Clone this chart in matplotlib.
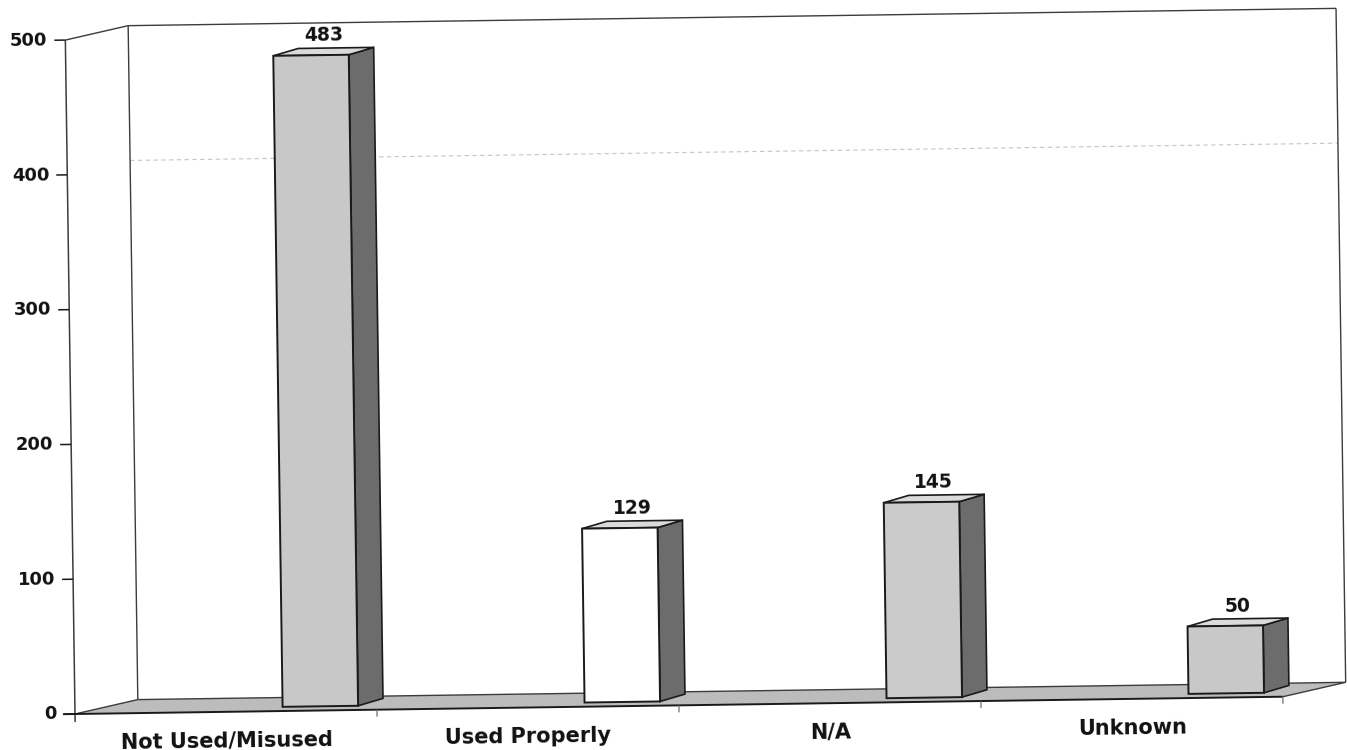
import matplotlib
matplotlib.use("Agg")
import matplotlib.pyplot as plt
from matplotlib.patches import Polygon
from matplotlib.transforms import Affine2D

# ---- data -------------------------------------------------------------
categories = ["Not Used/Misused", "Used Properly", "N/A", "Unknown"]
counts = [483, 129, 145, 50]
y_ticks = [0, 100, 200, 300, 400, 500]
y_max = 500
grid_values = [400]
front_colors = ["#c8c8c8", "#ffffff", "#cbcbcb", "#c8c8c8"]

# ---- layout of the pseudo-3D frame -------------------------------------
FIG_W, FIG_H, DPI = 1347, 750, 100
PX_PER_CAT = 302.0          # horizontal pixels per category slot
PX_PER_VAL = 1.348          # vertical pixels per count unit
ORIGIN = (75.0, 714.0)      # floor front-left corner, pixels from top-left
TILT = 0.82                 # whole drawing is tilted slightly (degrees)

# depth vectors expressed in data units (category, count)
FLOOR_D = (63.0 / PX_PER_CAT, 13.5 / PX_PER_VAL)
BAR_D = (25.0 / PX_PER_CAT, 7.0 / PX_PER_VAL)
BAR_DEPTH_POS = 0.31        # bar front face sits this far back on the floor
BAR_LEFT = 0.623            # bar offset inside its category slot
BAR_W = 0.25

FLOOR_C = "#bcbcbc"
SIDE_C = "#6c6c6c"
TOP_C = "#dadada"
EDGE_C = "#1a1a1a"
WALL_C = "#3c3c3c"
TEXT_C = "#111111"
FONT = "DejaVu Sans"

fig = plt.figure(figsize=(FIG_W / DPI, FIG_H / DPI), dpi=DPI)
ax = fig.add_axes([0, 0, 1, 1])
ax.set_axis_off()
ax.set_xlim(-ORIGIN[0] / PX_PER_CAT, (FIG_W - ORIGIN[0]) / PX_PER_CAT)
ax.set_ylim((ORIGIN[1] - FIG_H) / PX_PER_VAL, ORIGIN[1] / PX_PER_VAL)

ox, oy = ax.transData.transform((0, 0))
T = ax.transData + Affine2D().rotate_deg_around(ox, oy, TILT)

n = len(categories)
fdx, fdy = FLOOR_D
bdx, bdy = BAR_D


def line(xs, ys, **kw):
    ax.plot(xs, ys, transform=T, solid_capstyle="butt", **kw)


def poly(pts, **kw):
    ax.add_patch(Polygon(pts, closed=True, transform=T, **kw))


def label(x, y, s, size, **kw):
    ax.text(x, y, s, transform=T, fontsize=size, fontweight="bold",
            family=FONT, rotation=TILT, rotation_mode="anchor",
            color=TEXT_C, **kw)


# floor
poly([(0, 0), (n, 0), (n + fdx, fdy), (fdx, fdy)], facecolor=FLOOR_C,
     edgecolor="none", zorder=1)

# gridlines on the back wall
for g in grid_values:
    line([fdx, n + fdx], [g + fdy, g + fdy], color="#a0a0a0", lw=0.8,
         ls=(0, (4, 3)), alpha=0.6, zorder=1)

# walls and floor edges
wall_kw = dict(color=WALL_C, lw=1.0, zorder=2)
line([fdx, fdx], [fdy, y_max + fdy], **wall_kw)
line([fdx, n + fdx], [y_max + fdy, y_max + fdy], **wall_kw)
line([n + fdx, n + fdx], [y_max + fdy, fdy], **wall_kw)
line([0, fdx], [y_max, y_max + fdy], **wall_kw)
line([fdx, n + fdx], [fdy, fdy], **wall_kw)
line([0, fdx], [0, fdy], **wall_kw)
line([n, n + fdx], [0, fdy], **wall_kw)
line([0, 0], [-8 / PX_PER_VAL, y_max], color=WALL_C, lw=1.1, zorder=2)
line([-12 / PX_PER_CAT, n], [0, 0], color=EDGE_C, lw=1.4, zorder=2)

# category boundary ticks under the floor
for k in range(1, n + 1):
    line([k, k], [0, -7 / PX_PER_VAL], color="#707070", lw=0.9, zorder=2)

# value ticks and labels
for t in y_ticks:
    line([-11 / PX_PER_CAT, 0], [t, t], color=EDGE_C, lw=1.1, zorder=2)
    label(-18 / PX_PER_CAT, t, f"{t}", 13, ha="right", va="center")

# bars
for i, (v, fc) in enumerate(zip(counts, front_colors)):
    x0 = i + BAR_LEFT + BAR_DEPTH_POS * fdx
    y0 = BAR_DEPTH_POS * fdy
    x1 = x0 + BAR_W
    side = [(x1, y0), (x1 + bdx, y0 + bdy), (x1 + bdx, y0 + v + bdy),
            (x1, y0 + v)]
    top = [(x0, y0 + v), (x1, y0 + v), (x1 + bdx, y0 + v + bdy),
           (x0 + bdx, y0 + v + bdy)]
    front = [(x0, y0), (x1, y0), (x1, y0 + v), (x0, y0 + v)]
    poly(side, facecolor=SIDE_C, edgecolor=EDGE_C, lw=1.2, zorder=3,
         joinstyle="miter")
    poly(top, facecolor=TOP_C, edgecolor=EDGE_C, lw=1.2, zorder=3,
         joinstyle="miter")
    poly(front, facecolor=fc, edgecolor=EDGE_C, lw=1.4, zorder=4,
         joinstyle="miter")
    label(x0 + (BAR_W + bdx) / 2, y0 + v + bdy + 7 / PX_PER_VAL, f"{v}",
          13.5, ha="center", va="baseline", zorder=5)

# category labels
for i, name in enumerate(categories):
    label(i + 0.5, -35 / PX_PER_VAL, name, 15, ha="center", va="baseline")

fig.savefig("out.png", dpi=DPI)
